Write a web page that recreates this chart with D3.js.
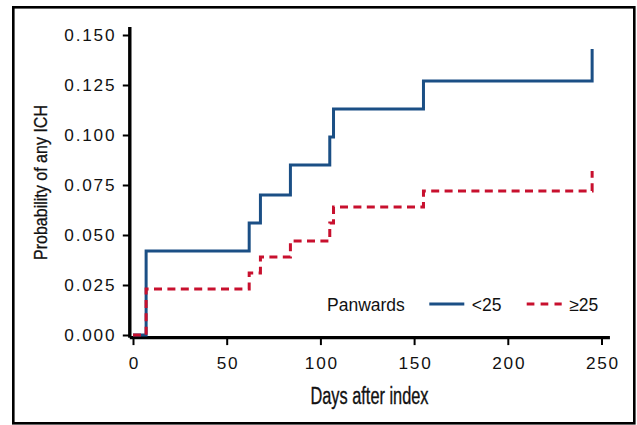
<!DOCTYPE html>
<html>
<head>
<meta charset="utf-8">
<script src="https://cdn.jsdelivr.net/npm/d3@7"></script>
<style>
  html, body { margin: 0; padding: 0; background: #fff; }
  svg { display: block; }
</style>
</head>
<body>
<svg id="chart" width="637" height="425"></svg>
<script>
// ---- data ----
const days = [0, 7, 62, 68, 84, 105, 107, 155, 245];
const probLow = [0, 0.042, 0.056, 0.070, 0.085, 0.099, 0.113, 0.127, 0.143];   // Panwards <25
const probHigh = [0, 0.023, 0.031, 0.039, 0.047, 0.056, 0.064, 0.072, 0.082];  // Panwards >=25
const seriesNames = ["<25", "\u226525"];
const xTicks = [0, 50, 100, 150, 200, 250];
const yTicks = [0, 0.025, 0.05, 0.075, 0.1, 0.125, 0.15];
const legendTitle = "Panwards";
const xTitle = "Days after index";
const yTitle = "Probability of any ICH";

// ---- drawing ----
const svg = d3.select("#chart");
const x = d3.scaleLinear().domain([0, 250]).range([133, 601.5]);
const y = d3.scaleLinear().domain([0, 0.15]).range([335, 35]);

const colors = ["#1b4f85", "#c8102e"];
const dashes = [null, "8,5.4"];

// frame
svg.append("rect")
  .attr("x", 13.3).attr("y", 7.3).attr("width", 621).attr("height", 416)
  .attr("fill", "none").attr("stroke", "#000").attr("stroke-width", 2.6);

const tickFont = "'Liberation Sans', Arial, Helvetica, sans-serif";

// x axis
const xAxis = svg.append("g").attr("transform", "translate(0,337.6)")
  .call(d3.axisBottom(x).tickValues(xTicks).tickSize(7.5).tickPadding(12).tickFormat(d3.format("d")));
xAxis.select(".domain").remove();
xAxis.selectAll(".tick line").attr("stroke", "#000").attr("stroke-width", 2);
xAxis.selectAll(".tick text")
  .attr("font-family", tickFont).attr("font-size", 17.2).attr("fill", "#111")
  .attr("letter-spacing", "1.8px").attr("dx", "0.9px");

// y axis
const yAxis = svg.append("g").attr("transform", "translate(129.8,0)")
  .call(d3.axisLeft(y).tickValues(yTicks).tickSize(7).tickPadding(8).tickFormat(d3.format(".3f")));
yAxis.select(".domain").remove();
yAxis.selectAll(".tick line").attr("stroke", "#000").attr("stroke-width", 2);
yAxis.selectAll(".tick text")
  .attr("font-family", tickFont).attr("font-size", 17.2).attr("fill", "#111")
  .attr("letter-spacing", "1.8px").attr("dx", "1.5px");

// axis lines
svg.append("line")
  .attr("x1", x(-1.7)).attr("x2", x(254.5))
  .attr("y1", 337.6).attr("y2", 337.6)
  .attr("stroke", "#000").attr("stroke-width", 3.2);
svg.append("line")
  .attr("x1", 129.8).attr("x2", 129.8)
  .attr("y1", y(-0.0014)).attr("y2", y(0.154))
  .attr("stroke", "#000").attr("stroke-width", 3.4);

// step lines
const line = d3.line().x(d => x(d[0])).y(d => y(d[1])).curve(d3.curveStepAfter);
const allSeries = [probLow, probHigh];
allSeries.forEach((vals, i) => {
  svg.append("path")
    .datum(days.map((d, j) => [d, vals[j]]))
    .attr("d", line)
    .attr("fill", "none")
    .attr("stroke", colors[i])
    .attr("stroke-width", 3)
    .attr("stroke-dasharray", dashes[i]);
});

// legend
const legFont = "'Liberation Sans', Arial, Helvetica, sans-serif";
svg.append("text").attr("x", 327).attr("y", 310.5)
  .attr("font-family", legFont).attr("font-size", 17.5).attr("fill", "#111")
  .text(legendTitle);
const legX = [429.3, 526.7];
seriesNames.forEach((nm, i) => {
  svg.append("line")
    .attr("x1", legX[i]).attr("x2", legX[i] + 35)
    .attr("y1", 304).attr("y2", 304)
    .attr("stroke", colors[i]).attr("stroke-width", 3.2)
    .attr("stroke-dasharray", i === 1 ? "7.7,6.2" : null);
  svg.append("text").attr("x", legX[i] + 42.5).attr("y", 310.5)
    .attr("font-family", legFont).attr("font-size", 17.5).attr("fill", "#111")
    .text(nm);
});

// axis titles
const condFont = "'Liberation Sans Narrow', 'Arial Narrow', 'Liberation Sans', sans-serif";
svg.append("text")
  .attr("x", 369.5).attr("y", 403.5)
  .attr("text-anchor", "middle")
  .attr("font-family", condFont).attr("font-size", 23).attr("fill", "#111")
  .attr("stroke", "#111").attr("stroke-width", 0.35)
  .attr("textLength", 118).attr("lengthAdjust", "spacingAndGlyphs")
  .text(xTitle);
svg.append("text")
  .attr("transform", "translate(47.3,182.5) rotate(-90)")
  .attr("text-anchor", "middle")
  .attr("font-family", condFont).attr("font-size", 19).attr("fill", "#111")
  .attr("stroke", "#111").attr("stroke-width", 0.3)
  .attr("textLength", 155).attr("lengthAdjust", "spacingAndGlyphs")
  .text(yTitle);
</script>
</body>
</html>
